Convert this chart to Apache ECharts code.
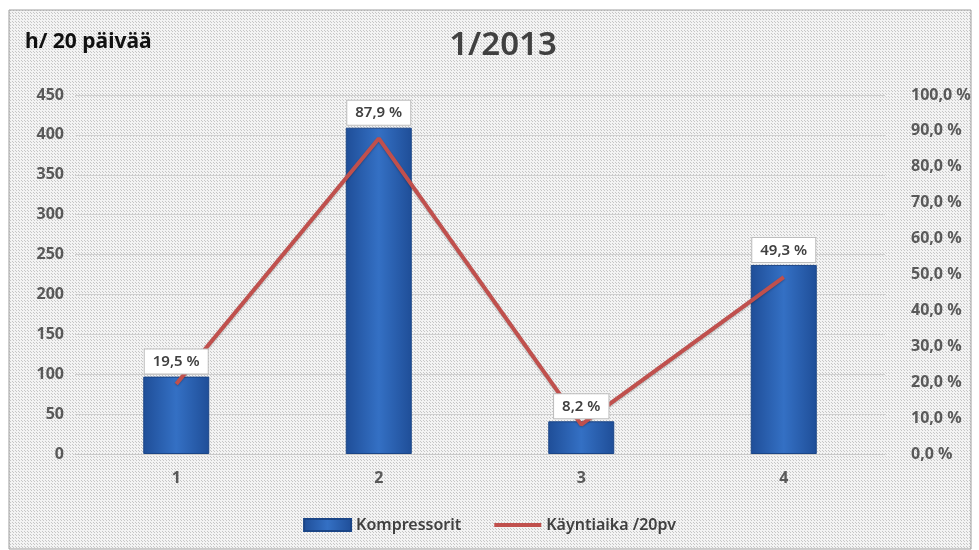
<!DOCTYPE html>
<html><head><meta charset="utf-8">
<script src="https://cdn.jsdelivr.net/npm/echarts@6/dist/echarts.min.js"></script>
<style>html,body{margin:0;padding:0;background:#fff}#c{width:979px;height:550px}</style>
</head><body><div id="c"></div>
<script>
const categories = ['1', '2', '3', '4'];
const hours = [97, 409, 41, 237];
const runtimePct = [19.5, 87.9, 8.2, 49.3];
const leftTicks = [0, 50, 100, 150, 200, 250, 300, 350, 400, 450];

const pc = document.createElement('canvas');
pc.width = 3; pc.height = 3;
const px = pc.getContext('2d');
px.fillStyle = '#f3f3f3'; px.fillRect(0, 0, 3, 3);
px.fillStyle = '#c6c6c6'; px.fillRect(0, 0, 1, 1); px.fillRect(1, 1, 1, 1);

const fmtPct = v => v.toFixed(1).replace('.', ',') + ' %';
const FONT = 'Noto Sans';
const chart = echarts.init(document.getElementById('c'));
chart.setOption({
  backgroundColor: '#fff',
  animation: false,
  graphic: [
    { type: 'rect', z: -10, silent: true, shape: { x: 9, y: 10, width: 962, height: 539 },
      style: { fill: { image: pc, repeat: 'repeat' }, stroke: '#9e9e9e', lineWidth: 1 } },
    { type: 'text', left: 25, top: 32, silent: true,
      style: { text: 'h/ 20 päivää', font: 'bold 21px "Noto Sans", sans-serif', fill: '#111' } }
  ],
  title: {
    text: '1/2013', left: 498, top: 24, textAlign: 'center',
    textStyle: { fontSize: 33, fontWeight: 600, color: '#404040', fontFamily: FONT }
  },
  legend: {
    top: 512, left: 'center', itemGap: 33, itemWidth: 47, itemHeight: 12,
    textStyle: { fontSize: 16, fontWeight: 600, color: '#404040', fontFamily: FONT },
    data: [
      { name: 'Kompressorit', icon: 'rect' },
      { name: 'Käyntiaika /20pv', icon: 'path://M0,0h47v4h-47z', itemStyle: { color: '#c0504d' } }
    ]
  },
  grid: { left: 75, right: 94, top: 95, bottom: 96 },
  xAxis: {
    type: 'category', data: categories,
    axisLine: { lineStyle: { color: '#c8c8c8' } }, axisTick: { show: false },
    axisLabel: { margin: 16, fontSize: 16, fontWeight: 'bold', color: '#595959', fontFamily: FONT }
  },
  yAxis: [
    { type: 'value', min: 0, max: 450, interval: 50,
      axisLine: { show: false }, axisTick: { show: false },
      splitLine: { lineStyle: { color: '#cfcfcf' } },
      axisLabel: { margin: 11, fontSize: 16, fontWeight: 'bold', color: '#595959', fontFamily: FONT,
        formatter: v => leftTicks.includes(v) ? String(v) : '' } },
    { type: 'value', min: 0, max: 1, interval: 0.1, position: 'right',
      axisLine: { show: false }, axisTick: { show: false }, splitLine: { show: false },
      axisLabel: { margin: 26, fontSize: 16, fontWeight: 'bold', color: '#595959', fontFamily: FONT,
        formatter: v => fmtPct(v * 100) } }
  ],
  series: [
    { name: 'Kompressorit', type: 'bar', data: hours, barWidth: 66, yAxisIndex: 0, z: 2,
      itemStyle: {
        color: new echarts.graphic.LinearGradient(0, 0, 1, 0, [
          { offset: 0, color: '#1f4e98' }, { offset: 0.5, color: '#3470c4' }, { offset: 1, color: '#1f4e98' }
        ]),
        borderColor: '#1a4587', borderWidth: 1
      } },
    { name: 'Käyntiaika /20pv', type: 'line', yAxisIndex: 1, z: 3,
      data: runtimePct.map(v => v / 100), symbol: 'none',
      lineStyle: { color: '#c0504d', width: 4, shadowColor: 'rgba(0,0,0,0.25)', shadowBlur: 2, shadowOffsetY: 1 },
      itemStyle: { color: '#c0504d' } },
    { name: 'labels', type: 'bar', data: hours, barWidth: 66, barGap: '-100%', yAxisIndex: 0, z: 5,
      silent: true, itemStyle: { color: 'rgba(0,0,0,0)' },
      label: { show: true, position: 'top', distance: 3,
        formatter: p => fmtPct(runtimePct[p.dataIndex]),
        backgroundColor: '#fff', borderColor: '#bdbdbd', borderWidth: 1, padding: [5, 8, 4, 8],
        fontSize: 15, fontWeight: 600, color: '#404040', fontFamily: FONT } }
  ]
});
</script></body></html>
